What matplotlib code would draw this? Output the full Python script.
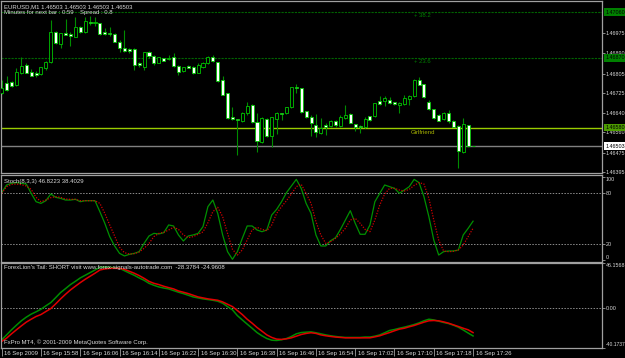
import matplotlib
matplotlib.use("Agg")
import matplotlib.pyplot as plt
import matplotlib.transforms as mtransforms
import numpy as np

plt.rcParams['font.family'] = ['Liberation Sans', 'DejaVu Sans']

W, H = 625, 358
FS = 4.3
FSR = 3.9   # right-hand scale labels
FG = '#d8d8d8'
FRAME = '#a0a0a0'

# EURUSD M1, 16 Sep 2009 15:50 .. 17:26 (one bar per minute)
opens = [1.46723, 1.46764, 1.46770, 1.46756, 1.46806, 1.46841, 1.46813, 1.46809, 1.46803, 1.46827,
         1.46853, 1.46978, 1.46928, 1.46975, 1.46970, 1.46959, 1.46999, 1.46979, 1.47021, 1.47014,
         1.47014, 1.46977, 1.46972, 1.46968, 1.46938, 1.46910, 1.46906, 1.46906, 1.46848, 1.46834,
         1.46896, 1.46878, 1.46850, 1.46868, 1.46864, 1.46875, 1.46838, 1.46816, 1.46836, 1.46834,
         1.46809, 1.46834, 1.46848, 1.46873, 1.46852, 1.46778, 1.46723, 1.46625, 1.46614, 1.46609,
         1.46639, 1.46674, 1.46605, 1.46521, 1.46616, 1.46545, 1.46617, 1.46641, 1.46639, 1.46664,
         1.46749, 1.46743, 1.46648, 1.46623, 1.46591, 1.46556, 1.46591, 1.46587, 1.46607, 1.46587,
         1.46618, 1.46636, 1.46593, 1.46587, 1.46581, 1.46628, 1.46630, 1.46691, 1.46692, 1.46695,
         1.46685, 1.46674, 1.46678, 1.46698, 1.46711, 1.46778, 1.46760, 1.46686, 1.46656, 1.46634,
         1.46616, 1.46639, 1.46609, 1.46587, 1.46478, 1.46589, 1.46503]
highs = [1.46778, 1.46795, 1.46773, 1.46827, 1.46873, 1.46848, 1.46823, 1.46816, 1.46834, 1.46859,
         1.47028, 1.46981, 1.46975, 1.47032, 1.46979, 1.47042, 1.47003, 1.47042, 1.47045, 1.47042,
         1.47017, 1.46993, 1.47000, 1.46972, 1.46945, 1.46986, 1.46910, 1.46910, 1.46854, 1.46896,
         1.46900, 1.46882, 1.46875, 1.46871, 1.46882, 1.46889, 1.46841, 1.46834, 1.46841, 1.46836,
         1.46850, 1.46854, 1.46878, 1.46882, 1.46854, 1.46795, 1.46725, 1.46667, 1.46617, 1.46646,
         1.46688, 1.46677, 1.46639, 1.46623, 1.46618, 1.46625, 1.46643, 1.46642, 1.46667, 1.46750,
         1.46761, 1.46746, 1.46650, 1.46632, 1.46635, 1.46618, 1.46598, 1.46612, 1.46612, 1.46632,
         1.46674, 1.46639, 1.46595, 1.46589, 1.46625, 1.46630, 1.46684, 1.46713, 1.46711, 1.46709,
         1.46688, 1.46686, 1.46716, 1.46714, 1.46782, 1.46789, 1.46763, 1.46695, 1.46659, 1.46636,
         1.46643, 1.46652, 1.46612, 1.46591, 1.46618, 1.46589, 1.46503]
lows = [1.46720, 1.46734, 1.46750, 1.46753, 1.46803, 1.46806, 1.46795, 1.46789, 1.46800, 1.46820,
        1.46848, 1.46928, 1.46910, 1.46964, 1.46921, 1.46957, 1.46974, 1.46975, 1.47007, 1.47003,
        1.46967, 1.46966, 1.46961, 1.46935, 1.46896, 1.46896, 1.46892, 1.46820, 1.46834, 1.46820,
        1.46868, 1.46841, 1.46848, 1.46856, 1.46861, 1.46834, 1.46798, 1.46813, 1.46827, 1.46803,
        1.46806, 1.46829, 1.46845, 1.46854, 1.46771, 1.46714, 1.46616, 1.46612, 1.46466, 1.46605,
        1.46632, 1.46598, 1.46480, 1.46514, 1.46542, 1.46501, 1.46553, 1.46612, 1.46636, 1.46660,
        1.46725, 1.46642, 1.46620, 1.46545, 1.46539, 1.46553, 1.46549, 1.46584, 1.46584, 1.46584,
        1.46614, 1.46598, 1.46567, 1.46559, 1.46577, 1.46607, 1.46625, 1.46674, 1.46670, 1.46678,
        1.46675, 1.46639, 1.46674, 1.46674, 1.46706, 1.46756, 1.46703, 1.46653, 1.46617, 1.46606,
        1.46612, 1.46600, 1.46581, 1.46410, 1.46476, 1.46501, 1.46503]
closes = [1.46743, 1.46736, 1.46753, 1.46811, 1.46838, 1.46809, 1.46796, 1.46798, 1.46831, 1.46854,
          1.46978, 1.46931, 1.46972, 1.46967, 1.46961, 1.46997, 1.46977, 1.47022, 1.47014, 1.47018,
          1.46970, 1.46968, 1.46968, 1.46938, 1.46910, 1.46900, 1.46900, 1.46841, 1.46841, 1.46893,
          1.46878, 1.46850, 1.46873, 1.46859, 1.46871, 1.46836, 1.46811, 1.46831, 1.46829, 1.46806,
          1.46841, 1.46850, 1.46873, 1.46859, 1.46774, 1.46717, 1.46618, 1.46614, 1.46612, 1.46639,
          1.46670, 1.46602, 1.46525, 1.46618, 1.46545, 1.46623, 1.46639, 1.46638, 1.46664, 1.46748,
          1.46746, 1.46645, 1.46623, 1.46598, 1.46560, 1.46577, 1.46584, 1.46609, 1.46589, 1.46623,
          1.46632, 1.46600, 1.46584, 1.46581, 1.46616, 1.46612, 1.46681, 1.46678, 1.46705, 1.46681,
          1.46678, 1.46684, 1.46702, 1.46711, 1.46778, 1.46759, 1.46706, 1.46659, 1.46620, 1.46609,
          1.46639, 1.46607, 1.46584, 1.46484, 1.46593, 1.46503, 1.46503]

stoch_main = [80.8, 89.9, 91.9, 92.7, 91.9, 91.1, 80.0, 70.0, 68.0, 71.2,
              79.2, 75.2, 74.0, 72.0, 72.0, 72.8, 70.0, 71.2, 71.2, 71.2,
              58.1, 44.3, 28.4, 17.3, 8.5, 5.4, 7.3, 8.5, 10.5, 20.4,
              29.2, 32.3, 31.6, 33.1, 42.3, 41.1, 30.4, 23.2, 29.2, 30.4,
              32.3, 40.3, 64.1, 72.0, 56.1, 30.4, 10.5, 1.4, 10.5, 26.4,
              41.1, 41.1, 36.3, 34.3, 36.3, 54.2, 60.9, 70.0, 80.8, 88.7,
              96.6, 85.9, 68.0, 56.1, 30.4, 17.3, 17.3, 23.6, 27.2, 37.1,
              48.2, 59.3, 44.3, 31.2, 31.2, 42.3, 70.0, 80.0, 89.9, 87.9,
              85.9, 80.0, 83.9, 87.9, 96.6, 92.7, 76.0, 52.2, 24.4, 6.5,
              10.5, 11.3, 11.3, 12.5, 30.4, 38.3, 46.8223]
stoch_signal = [80.0, 87.9, 90.7, 91.1, 90.3, 88.7, 84.7, 75.2, 70.0, 72.0,
                74.8, 76.0, 75.2, 73.2, 72.8, 72.8, 71.2, 71.2, 71.2, 71.2,
                68.0, 56.1, 42.3, 29.2, 15.7, 9.3, 7.7, 8.1, 10.1, 14.5,
                20.4, 28.4, 32.3, 33.5, 36.3, 39.5, 37.1, 30.4, 27.2, 28.4,
                31.2, 34.0, 45.0, 58.1, 63.3, 52.2, 32.3, 13.3, 6.5, 12.5,
                24.4, 36.3, 39.5, 37.1, 35.5, 42.3, 56.1, 64.1, 71.2, 79.2,
                87.9, 90.7, 80.0, 68.0, 46.3, 30.4, 20.4, 22.4, 26.4, 31.6,
                38.3, 48.2, 50.2, 44.3, 37.1, 34.3, 48.2, 66.1, 79.2, 85.9,
                85.9, 83.9, 82.7, 84.7, 89.4, 92.7, 91.1, 74.0, 48.2, 24.4,
                11.3, 10.5, 10.9, 12.5, 18.4, 28.4, 38.4029]

lion_green = [-32.3, -27.3, -22.1, -17.4, -12.9, -9.2, -6.1, -3.7, -1.1, 2.4,
              5.7, 10.8, 16.0, 20.0, 24.1, 27.4, 30.9, 33.6, 36.3, 39.0,
              41.8, 42.1, 41.8, 41.4, 40.7, 38.3, 35.9, 33.6, 30.9, 28.5,
              25.4, 23.4, 21.7, 20.6, 19.7, 18.0, 16.3, 14.9, 13.2, 11.5,
              10.5, 9.5, 8.8, 8.1, 7.1, 5.1, 1.6, -1.7, -7.6, -12.0,
              -16.3, -20.5, -24.9, -28.2, -31.0, -32.7, -33.0, -32.3, -31.0, -28.9,
              -26.2, -24.9, -24.5, -24.2, -25.1, -26.2, -27.3, -28.2, -28.9, -29.5,
              -29.9, -29.9, -29.9, -29.9, -29.5, -29.5, -28.6, -27.3, -25.1, -22.8,
              -21.8, -20.5, -19.4, -18.1, -16.7, -15.0, -12.9, -11.3, -12.0, -13.3,
              -14.6, -15.7, -17.4, -19.4, -22.3, -25.4, -28.3784]
lion_red = [-34.0, -30.6, -26.2, -22.1, -18.1, -14.3, -11.3, -8.5, -6.5, -3.4,
            -0.4, 4.4, 9.5, 14.2, 18.6, 22.4, 26.1, 29.5, 32.6, 35.7,
            39.0, 40.1, 40.7, 40.7, 40.7, 39.7, 37.7, 35.7, 33.3, 30.5,
            27.4, 25.4, 24.1, 22.4, 21.0, 19.7, 17.6, 16.3, 14.9, 13.2,
            11.5, 10.5, 9.5, 8.8, 8.1, 6.4, 4.0, 1.6, -2.4, -6.5,
            -11.3, -15.3, -19.7, -23.5, -27.3, -29.9, -31.6, -31.9, -31.3, -30.3,
            -28.6, -26.9, -25.8, -25.1, -25.8, -27.3, -28.2, -28.9, -29.5, -29.9,
            -30.3, -30.3, -30.3, -30.3, -30.3, -30.3, -29.3, -28.2, -26.5, -24.9,
            -23.1, -21.4, -20.5, -19.0, -17.7, -16.0, -14.3, -12.9, -12.6, -12.9,
            -14.0, -15.3, -17.0, -18.7, -20.5, -22.1, -24.9608]

time_bars = [0, 8, 16, 24, 32, 40, 48, 56, 64, 72, 80, 88, 96]
time_labels = ['16 Sep 2009', '16 Sep 15:58', '16 Sep 16:06', '16 Sep 16:14', '16 Sep 16:22',
               '16 Sep 16:30', '16 Sep 16:38', '16 Sep 16:46', '16 Sep 16:54', '16 Sep 17:02',
               '16 Sep 17:10', '16 Sep 17:18', '16 Sep 17:26']

price_ticks = [1.46975, 1.46890, 1.46805, 1.46725, 1.46640, 1.46560, 1.46475, 1.46395]
fib_levels = [1.47060, 1.46870]
fib_names = ['+ 38.2', '+ 23.6']
girlfriend = 1.46580
bid = 1.46503
lion_max, lion_min = 46.1568, -40.1737


def box(top, bottom, left=1, right=602):
    return [left / W, 1 - bottom / H, (right - left) / W, (bottom - top) / H]


def ptext(x, y, s, **kw):
    kw.setdefault('color', FG)
    fig.text(x / W, 1 - y / H, s, va='center', ha='left', fontsize=FS, **kw)


fig = plt.figure(figsize=(W / 100, H / 100), dpi=100, facecolor='black')
ax1 = fig.add_axes(box(1, 173))
ax2 = fig.add_axes(box(175, 262))
ax3 = fig.add_axes(box(263, 347.5))

for ax in (ax1, ax2, ax3):
    ax.set_facecolor('black')
    ax.set_xlim(-0.14, 122.26)
    for s in ax.spines.values():
        s.set_color(FRAME)
        s.set_linewidth(0.9)
    ax.yaxis.tick_right()
    ax.tick_params(axis='y', length=2, width=0.6, color=FRAME, labelcolor=FG,
                   labelsize=FSR, pad=0.5)
    ax.tick_params(axis='x', bottom=False, labelbottom=False)

x = np.arange(len(opens))
o, h, l, c = map(np.array, (opens, highs, lows, closes))

# price panel
ax1.set_ylim(1.46391, 1.47107)
ax1.vlines(x, l, h, color='#008c00', lw=0.8, zorder=2)
ax1.bar(x, np.maximum(np.abs(c - o), 2e-6), bottom=np.minimum(o, c), width=0.62,
        color=np.where(c >= o, 'black', 'white'), edgecolor='#00c400', linewidth=0.6, zorder=3)
for lvl in fib_levels:
    ax1.axhline(lvl, color='#006400', lw=0.8, ls=(0, (2, 1)), zorder=1)
ax1.axhline(girlfriend, color='#99cc00', lw=1, zorder=1)
ax1.axhline(bid, color='#808080', lw=1, zorder=1)
ax1.set_yticks(price_ticks)
ax1.set_yticklabels([f'{p:.5f}' for p in price_ticks])

trans = mtransforms.blended_transform_factory(ax1.transAxes, ax1.transData)
for val, fc, tc in [(fib_levels[0], '#008000', 'black'), (fib_levels[1], '#008000', 'black'),
                    (girlfriend, '#4c9c00', 'black'), (bid, 'white', 'black')]:
    ax1.text(1 + 3.5 / 601, val, f'{val:.5f}', transform=trans, fontsize=FSR, color=tc,
             va='center', ha='left', clip_on=False, zorder=6,
             bbox=dict(boxstyle='square,pad=0.25', fc=fc, ec='none'))

# stochastic panel
ax2.set_ylim(-1.8, 101.8)
ax2.plot(x, stoch_main, color='#009000', lw=0.9)
ax2.plot(x, stoch_signal, color='#d00000', lw=0.9, ls=(0, (1, 1.2)))
for lvl in (20, 80):
    ax2.axhline(lvl, color='#8c8c8c', lw=0.7, ls=(0, (1.5, 1.5)), zorder=0)
ax2.set_yticks([0, 20, 80, 100])
ax2.set_yticklabels(['0', '20', '80', '100'])
labs = ax2.get_yticklabels()
labs[0].set_va('bottom')
labs[-1].set_va('top')

# ForexLion's Tail panel
ax3.set_ylim(lion_min, lion_max)
ax3.plot(x, lion_green, color='#008c00', lw=1.1)
ax3.plot(x, lion_red, color='#e00000', lw=1.1)
ax3.axhline(0, color='#8c8c8c', lw=0.7, ls=(0, (1.5, 1.5)), zorder=0)
ax3.set_yticks([lion_min, 0, lion_max])
ax3.set_yticklabels(['-40.1737', '0.00', '46.1568'])
labs = ax3.get_yticklabels()
labs[0].set_va('bottom')
labs[0].set_fontsize(3.6)
labs[-1].set_va('top')

ax3.set_xticks(time_bars)
ax3.set_xticklabels(time_labels)
ax3.tick_params(axis='x', bottom=True, labelbottom=True, length=5.5, width=0.6,
                color=FRAME, labelcolor=FG, labelsize=FS, pad=-3)
offset = mtransforms.ScaledTranslation(2.5 / 100, 0, fig.dpi_scale_trans)
for lab in ax3.get_xticklabels():
    lab.set_horizontalalignment('left')
    lab.set_transform(lab.get_transform() + offset)

# texts
ptext(3.5, 6.3, 'EURUSD,M1 1.46503 1.46503 1.46503 1.46503')
ptext(4, 12.8, 'Minutes for next bar : 0:59')
ptext(80, 12.8, 'Spread : 0.8')
ptext(414, 15.3, fib_names[0], color='#008000')
ptext(414, 61.7, fib_names[1], color='#008000')
ptext(411, 132.5, 'Girlfriend', color='#a8b400')
ptext(4, 181.5, 'Stoch(8,3,3) 46.8223 38.4029')
ptext(4, 268, "ForexLion's Tail: SHORT visit www.forex-signals-autotrade.com  -28.3784 -24.9608")
ptext(4, 342, 'FxPro MT4, \u00a9 2001-2009 MetaQuotes Software Corp.')

fig.savefig('out.png', dpi=100, facecolor='black')
